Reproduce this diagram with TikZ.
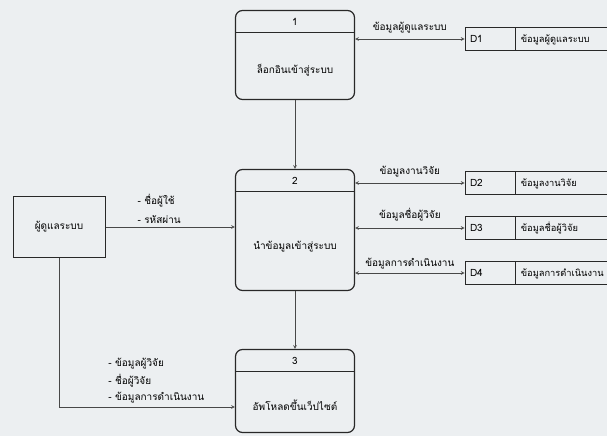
\documentclass[tikz,border=0pt]{standalone}
\usepackage{fontspec}
\setmainfont{Liberation Sans}
\newfontfamily\thaifont[Script=Thai]{Loma}
\usetikzlibrary{positioning, arrows}
\definecolor{paper}{RGB}{236,239,241}
\definecolor{ink}{RGB}{40,40,40}
\tikzstyle{process} = [rectangle, rounded corners=7pt, minimum width=119pt, text height=40pt, text depth=2pt, draw=ink, line width=1.2pt, path picture={\draw[ink, line width=1.2pt] ([yshift=-22pt]path picture bounding box.north west) -- ([yshift=-22pt]path picture bounding box.north east);}]
\tikzstyle{procno} = [anchor=north, yshift=-5pt, text height=, text depth=]
\tikzstyle{entity} = [rectangle, minimum width=92pt, minimum height=61pt, draw=ink, line width=1pt]
\tikzstyle{store} = [rectangle, minimum height=23pt, text height=8pt, text depth=2pt, text width=40pt, inner xsep=5pt, inner ysep=2pt, align=left, draw=ink, line width=0.8pt]
\tikzstyle{storename} = [store, text width=140pt, inner xsep=5pt, font=\thaifont\fontsize{9.3}{11}\selectfont]
\tikzstyle{flow} = [draw=ink!85, line width=0.7pt, ->, >=stealth]
\tikzstyle{both} = [flow, <->]

\begin{document}
\begin{tikzpicture}[x=1pt, y=1pt, node distance=45pt, on grid, font=\thaifont\fontsize{10}{12}\selectfont]
	\fill[paper] (0,0) rectangle (607,-436);
	\useasboundingbox (0,0) rectangle (607,-436);

	\node (enter) [process, minimum height=121pt, label={[procno]north:2}] at (295,-230) {นำข้อมูลเข้าสู่ระบบ};
	\node (login) [process, minimum height=89pt, label={[procno]north:1}, above=175pt of enter] {ล็อกอินเข้าสู่ระบบ};
	\node (upload) [process, minimum height=83pt, label={[procno]north:3}, below=161pt of enter] {อัพโหลดขึ้นเว็ปไซต์};
	\node (admin) [entity, left=236pt of enter, yshift=3pt] {ผู้ดูแลระบบ};

	\node (d1) [store, right=195pt of login, yshift=16pt] {D1};
	\node (d3) [store, right=195pt of enter, yshift=2pt] {D3};
	\node (d2) [store, above=of d3] {D2};
	\node (d4) [store, below=of d3] {D4};
	\node (d1name) [storename, anchor=west] at (d1.east) {ข้อมูลผู้ดูแลระบบ};
	\node (d2name) [storename, anchor=west] at (d2.east) {ข้อมูลงานวิจัย};
	\node (d3name) [storename, anchor=west] at (d3.east) {ข้อมูลชื่อผู้วิจัย};
	\node (d4name) [storename, anchor=west] at (d4.east) {ข้อมูลการดำเนินงาน};

	\draw [both] (login.east |- d1.west) -- (d1.west) node[midway, above=2pt] {ข้อมูลผู้ดูแลระบบ};
	\draw [both] (enter.east |- d2.west) -- (d2.west) node[midway, above=2pt] {ข้อมูลงานวิจัย};
	\draw [both] (enter.east |- d3.west) -- (d3.west) node[midway, above=3pt] {ข้อมูลชื่อผู้วิจัย};
	\draw [both] (enter.east |- d4.west) -- (d4.west) node[midway, above=0pt] {ข้อมูลการดำเนินงาน};

	\draw [flow] (login) -- (enter);
	\draw [flow] (enter) -- (upload);
	\draw [flow] (admin.east) -- (admin.east -| enter.west) node[pos=0.22, above right, align=left] {- ชื่อผู้ใช้\\[7pt]- รหัสผ่าน};

	\coordinate (uploadin) at ([yshift=-16pt]upload.west);
	\draw [flow] (admin) |- (uploadin) node[pos=0.63, above right, align=left] {- ข้อมูลผู้วิจัย\\[4pt]- ชื่อผู้วิจัย\\[4pt]- ข้อมูลการดำเนินงาน};
\end{tikzpicture}
\end{document}
